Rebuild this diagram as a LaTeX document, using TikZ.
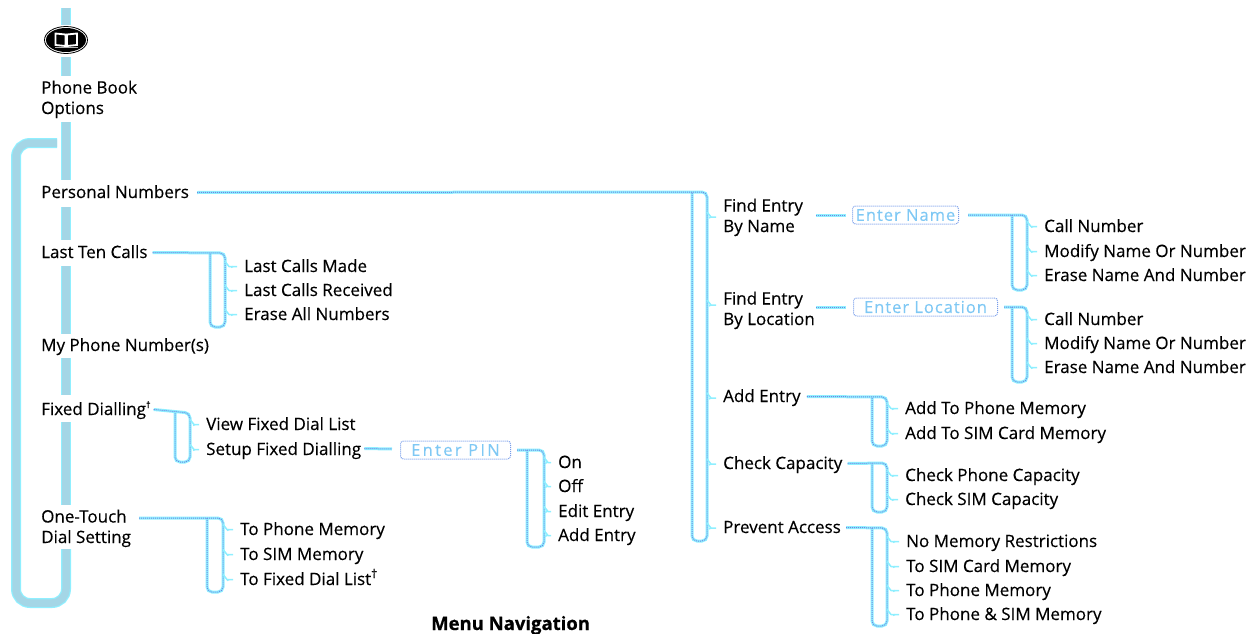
\documentclass[tikz,border=0pt]{standalone}
\usepackage{fontspec}
\setmainfont{Open Sans}[FakeBold=0.35]
\newfontfamily\capfont{Open Sans}[FakeBold=0.6]
\definecolor{band}{HTML}{8FEFFF}
\definecolor{dith}{HTML}{A4D6E6}
\definecolor{inkblue}{HTML}{6F86E4}
\definecolor{prompt}{HTML}{7FC8F4}
\tikzset{
  lbl/.style={inner sep=0pt,anchor=base west,font=\fontsize{17}{20.5}\selectfont,text height=15pt,text depth=4pt},
  lbltwo/.style={inner sep=0pt,anchor=base west,align=left,font=\fontsize{17}{20.5}\selectfont},
  bigband/.style={draw=band,line width=10pt,postaction={draw=dith,line width=7.5pt}},
  thinband/.style={draw=band,line width=3pt,postaction={draw=inkblue,line width=1pt,dash pattern=on 1pt off 1pt}},
  tickband/.style={draw=band,line width=1.5pt,line join=round},
  promptbox/.style={draw=inkblue!80!band,line width=1pt,dash pattern=on 1pt off 1pt,rounded corners=3pt,inner sep=0pt,text=prompt,
    anchor=west,minimum height=18pt,align=center},
  promptfont/.style={font=\fontsize{16.5}{18}\addfontfeature{LetterSpace=#1}\selectfont},
}
% #1 start  #2 y  #3 left x  #4 right x  #5 bottom y  #6 items
\newcommand\brk[6]{%
  \draw[thinband,rounded corners=5pt] #1 -- (#4,#2) -- (#4,#5) -- (#3,#5) -- (#3,#2);
  \foreach \itm in {#6}{
    \draw[tickband] (\itm.west -| #4,0) ++(0,-5) -- ++(4,5) -- ([xshift=-7pt]\itm.west);
    \draw[tickband] ([xshift=-11pt]\itm.west) -- ++(-2,1);
  }%
}
\begin{document}
\begin{tikzpicture}[x=1pt,y=-1pt]
\useasboundingbox (0,0) rectangle (1254,634);
% left column
\node[lbltwo] (book) at (41,114) {Phone Book\\Options};
\node[lbl] (pn) at (41,198) {Personal Numbers};
\node[lbl] (ltc) at (41,258) {Last Ten Calls};
\node[lbl] (my) at (41,351) {My Phone Number(s)};
\node[lbl] (fd) at (41,415) {Fixed Dialling\raisebox{7pt}{\fontsize{9}{9}\selectfont †}};
\node[lbltwo] (ot) at (41,543) {One-Touch\\Dial Setting};
% spine
\coordinate (top) at (66,8);
\coordinate (ub) at (66,76);
\coordinate (uc) at (66,122);
\coordinate (ud) at (66,180);
\coordinate (ue) at (66,207);
\coordinate (uf) at (66,240);
\coordinate (ug) at (66,266);
\coordinate (uh) at (66,334);
\coordinate (ui) at (66,358);
\coordinate (uj) at (66,395);
\coordinate (uk) at (66,422);
\coordinate (ul) at (66,505);
\coordinate (um) at (66,549);
\coordinate (loopa) at (66,603);
\coordinate (loopb) at (16,603);
\coordinate (loopc) at (16,143);
\coordinate (loopd) at (57,143);
\draw[bigband] (top) -- (66,25);
\draw[bigband] (66,57) -- (ub);
\draw[bigband] (uc) -- (ud);
\draw[bigband] (ue) -- (uf);
\draw[bigband] (ug) -- (uh);
\draw[bigband] (ui) -- (uj);
\draw[bigband] (uk) -- (ul);
\draw[bigband,rounded corners=14pt] (um) -- (loopa) -- (loopb) -- (loopc) -- (loopd);
% icon
\fill[black] (66,40) ellipse [x radius=20,y radius=12];
\draw[black,line width=0.8pt] (66,40) ellipse [x radius=21.5,y radius=13.5];
\draw[white,line width=1.8pt] (55.5,33.5) -- (65.5,34.5) -- (65.5,46) -- (55.5,45) -- cycle;
\draw[white,line width=1.8pt] (77,33.5) -- (67,34.5) -- (67,46) -- (77,45) -- cycle;
\draw[white!70!black,line width=1pt] (55,47.5) -- (78,47.5);
% Last ten calls
\node[lbl] (a1) at (244,272) {Last Calls Made};
\node[lbl] (a2) at (244,296) {Last Calls Received};
\node[lbl] (a3) at (244,320) {Erase All Numbers};
\brk{([xshift=5pt]ltc.east)}{253}{210}{225}{327}{a1,a2,a3}
% Fixed dialling
\node[lbl] (b1) at (206,430) {View Fixed Dial List};
\node[lbl] (b2) at (206,455) {Setup Fixed Dialling};
\brk{([xshift=3pt]fd.east)}{413}{175}{190}{462}{b1,b2}
\node[promptbox,promptfont=14,minimum width=110pt] (pin) at (400,450) {Enter PIN};
\draw[thinband] ([xshift=3pt,yshift=1pt]b2.east) -- ([xshift=-8pt,yshift=1pt]pin.west);
\node[lbl] (c1) at (558,468) {On};
\node[lbl] (c2) at (558,492) {Off};
\node[lbl] (c3) at (558,517) {Edit Entry};
\node[lbl] (c4) at (558,541) {Add Entry};
\brk{([xshift=6pt]pin.east)}{450}{527}{544}{547}{c1,c2,c3,c4}
% One touch
\node[lbl] (d1) at (240,535) {To Phone Memory};
\node[lbl] (d2) at (240,560) {To SIM Memory};
\node[lbl] (d3) at (240,585) {To Fixed Dial List\raisebox{7pt}{\fontsize{12}{12}\selectfont †}};
\coordinate (otout) at (139,518);
\brk{(otout)}{518}{207}{223}{592}{d1,d2,d3}
% right column
\node[lbltwo] (e1) at (723,232) {Find Entry\\By Name};
\node[lbltwo] (e2) at (723,325) {Find Entry\\By Location};
\node[lbl] (e3) at (723,402) {Add Entry};
\node[lbl] (e4) at (723,469) {Check Capacity};
\node[lbl] (e5) at (723,533) {Prevent Access};
\draw[thinband,rounded corners=5pt] ([xshift=8pt]pn.east) -- (707,192) -- (707,541) -- (692,541) -- (692,192);
\foreach \yy in {217,305,398,464,528}{
  \draw[tickband] (707,\yy-5) -- (711,\yy) -- (716,\yy);
  \draw[tickband] (711,\yy) -- (709,\yy+1);
}
% find by name
\node[promptbox,promptfont=6,minimum width=106pt] (nm) at (852,215) {Enter Name};
\node[promptbox,promptfont=6,minimum width=144pt] (lc) at (853,307) {Enter Location};
\coordinate (e1o) at (816,215);
\coordinate (e2o) at (816,307);
\draw[thinband] (e1o) -- ([xshift=-6pt]nm.west);
\draw[thinband] (e2o) -- ([xshift=-7pt]lc.west);
\node[lbl] (f1) at (1044,232) {Call Number};
\node[lbl] (f2) at (1044,257) {Modify Name Or Number};
\node[lbl] (f3) at (1044,281) {Erase Name And Number};
\brk{([xshift=9pt]nm.east)}{215}{1012}{1027}{290}{f1,f2,f3}
\node[lbl] (g1) at (1044,325) {Call Number};
\node[lbl] (g2) at (1044,349) {Modify Name Or Number};
\node[lbl] (g3) at (1044,373) {Erase Name And Number};
\brk{([xshift=6pt]lc.east)}{307}{1012}{1027}{382}{g1,g2,g3}
% add entry
\node[lbl] (h1) at (905,414) {Add To Phone Memory};
\node[lbl] (h2) at (905,439) {Add To SIM Card Memory};
\brk{([xshift=6pt]e3.east)}{397}{872}{887}{446}{h1,h2}
\node[lbl] (i1) at (905,481) {Check Phone Capacity};
\node[lbl] (i2) at (905,505) {Check SIM Capacity};
\brk{([xshift=5pt]e4.east)}{463}{872}{887}{512}{i1,i2}
\node[lbl] (j1) at (906,547) {No Memory Restrictions};
\node[lbl] (j2) at (906,572) {To SIM Card Memory};
\node[lbl] (j3) at (906,596) {To Phone Memory};
\node[lbl] (j4) at (906,620) {To Phone \& SIM Memory};
\brk{([xshift=5pt]e5.east)}{528}{872}{887}{626}{j1,j2,j3,j4}
% caption
\node[inner sep=0pt,anchor=base west,font=\fontsize{18.5}{20}\capfont\bfseries] (cap) at (431,630) {Menu Navigation};
\end{tikzpicture}
\end{document}
